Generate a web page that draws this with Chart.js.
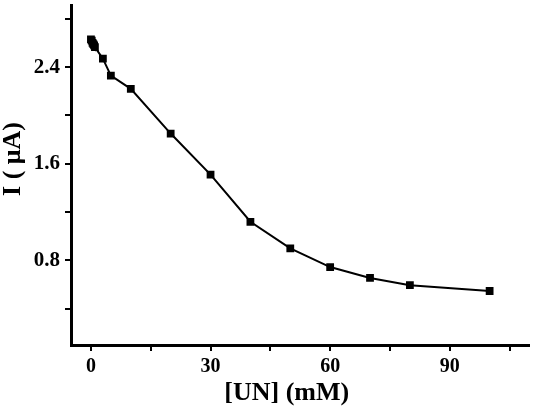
<!DOCTYPE html>
<html>
<head>
<meta charset="utf-8">
<script src="https://cdn.jsdelivr.net/npm/chart.js@4/dist/chart.umd.min.js"></script>
<style>
html,body{margin:0;padding:0;background:#fff;}
#wrap{width:534px;height:410px;}
</style>
</head>
<body>
<div id="wrap"><canvas id="c" width="534" height="410"></canvas></div>
<script>
const concentrations = [0, 0.2, 0.4, 0.6, 0.8, 1, 3, 5, 10, 20, 30, 40, 50, 60, 70, 80, 100];
const currents = [2.63, 2.62, 2.60, 2.59, 2.58, 2.565, 2.47, 2.33, 2.22, 1.85, 1.51, 1.12, 0.90, 0.745, 0.655, 0.595, 0.547];
const xTickValues = [0, 15, 30, 45, 60, 75, 90, 105];
const xTickLabels = ["0", "", "30", "", "60", "", "90", ""];
const yTickValues = [0.4, 0.8, 1.2, 1.6, 2.0, 2.4, 2.8];
const yTickLabels = ["", "0.8", "", "1.6", "", "2.4", ""];

const points = concentrations.map((x, i) => ({x: x, y: currents[i]}));
const serif = "'Liberation Serif', 'Times New Roman', serif";

new Chart(document.getElementById('c'), {
  type: 'line',
  data: {
    datasets: [{
      data: points,
      borderColor: '#000',
      backgroundColor: '#000',
      borderWidth: 2,
      pointStyle: 'rect',
      pointRadius: 5.5,
      pointBorderWidth: 0,
      tension: 0
    }]
  },
  options: {
    responsive: false,
    animation: false,
    devicePixelRatio: 1,
    layout: {padding: {top: 4, right: 4, left: 0, bottom: 0}},
    plugins: {legend: {display: false}, tooltip: {enabled: false}},
    scales: {
      x: {
        type: 'linear',
        min: -5,
        max: 109.75,
        afterFit: s => { s.height = 65; s.paddingLeft = 0; s.paddingRight = 0; },
        afterBuildTicks: s => { s.ticks = xTickValues.map(v => ({value: v})); },
        border: {display: true, width: 3, color: '#000'},
        grid: {display: true, drawOnChartArea: false, drawTicks: true, tickLength: 6, lineWidth: 2, color: '#000'},
        ticks: {
          color: '#000',
          padding: 4,
          maxRotation: 0,
          autoSkip: false,
          font: {family: serif, size: 20, weight: 'bold'},
          callback: (v, i) => xTickLabels[xTickValues.indexOf(v)] ?? ''
        },
        title: {
          display: true,
          text: '[UN] (mM)    ',
          color: '#000',
          font: {family: serif, size: 26, weight: 'bold', lineHeight: 1.2},
          padding: {top: 0, bottom: 1}
        }
      },
      y: {
        type: 'linear',
        min: 0.1,
        max: 2.91,
        afterFit: s => { s.width = 71; s.paddingTop = 0; s.paddingBottom = 0; },
        afterBuildTicks: s => { s.ticks = yTickValues.map(v => ({value: v})); },
        border: {display: true, width: 3, color: '#000'},
        grid: {display: true, drawOnChartArea: false, drawTicks: true, tickLength: 6, lineWidth: 2, color: '#000'},
        ticks: {
          color: '#000',
          padding: 5,
          autoSkip: false,
          font: {family: serif, size: 21, weight: 'bold'},
          callback: (v) => {
            const i = yTickValues.findIndex(t => Math.abs(t - v) < 1e-6);
            return i >= 0 ? yTickLabels[i] : '';
          }
        },
        title: {
          display: true,
          text: '     I ( μA)',
          color: '#000',
          font: {family: serif, size: 26, weight: 'bold', lineHeight: 1.0},
          padding: {top: 0, bottom: 0}
        }
      }
    }
  }
});
</script>
</body>
</html>
